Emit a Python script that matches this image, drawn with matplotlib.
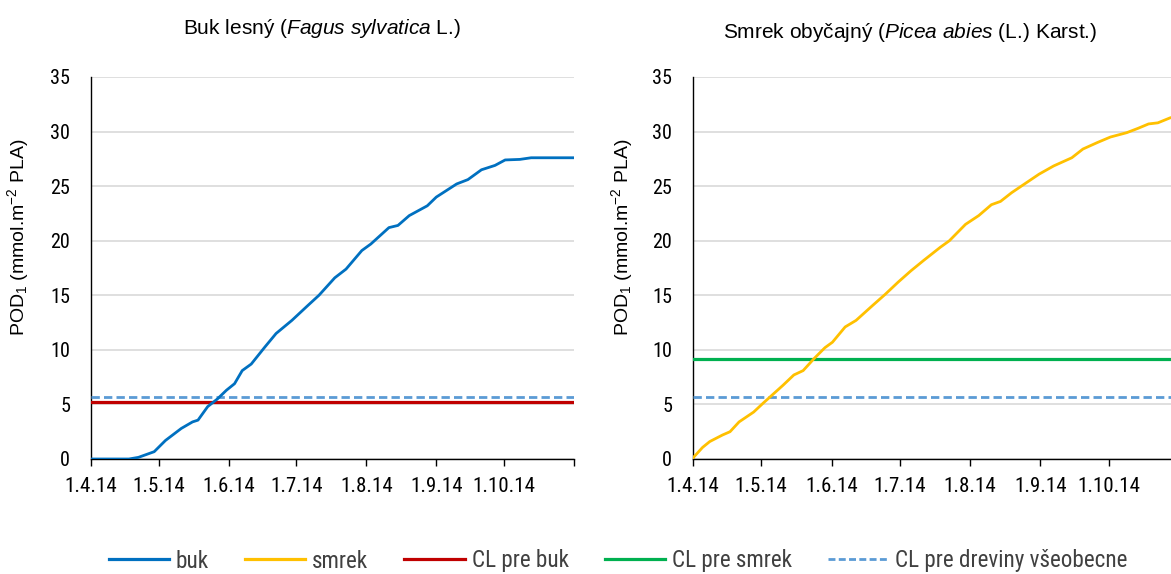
import matplotlib
matplotlib.use("Agg")
import matplotlib.pyplot as plt
from matplotlib import font_manager
from matplotlib.font_manager import FontProperties
from matplotlib.lines import Line2D

# look for a narrow / condensed sans face (Arial Narrow look-alike)
narrow_file = None
prefs = ["LiberationSansNarrow-Regular", "Roboto_Condensed-Regular", "RobotoCondensed-Regular",
         "OpenSans_Condensed-Regular", "OpenSansCondensed", "DejaVuSansCondensed.ttf"]
files = [f.fname for f in font_manager.fontManager.ttflist]
for p in prefs:
    for fn in files:
        if p.lower() in fn.lower():
            narrow_file = fn
            break
    if narrow_file:
        break

def NP(size):
    if narrow_file:
        return FontProperties(fname=narrow_file, size=size)
    return FontProperties(family="Liberation Sans", size=size)

plt.rcParams["font.family"] = ["Liberation Sans", "DejaVu Sans"]
plt.rcParams["mathtext.fontset"] = "custom"
plt.rcParams["mathtext.rm"] = "Liberation Sans"
plt.rcParams["mathtext.it"] = "Liberation Sans:italic"

# x in days since 1.4.14
month_days = [0, 30, 61, 91, 122, 153, 183, 214]
month_labels = ["1.4.14", "1.5.14", "1.6.14", "1.7.14", "1.8.14", "1.9.14", "1.10.14", ""]

buk_days = [0, 10, 16.8, 21, 28, 33, 40, 45, 47.4, 51.7, 56, 60, 63.6, 67, 71, 77, 82, 89, 96,
            101, 108, 113, 120, 124, 132, 136, 141, 149, 153, 162, 167, 173, 179, 183.5, 190,
            195, 214]
buk_vals = [0, 0, 0, 0.15, 0.67, 1.7, 2.8, 3.4, 3.56, 4.8, 5.5, 6.3, 6.9, 8.1, 8.7, 10.25, 11.5,
            12.7, 14.05, 15.0, 16.6, 17.4, 19.1, 19.7, 21.2, 21.4, 22.3, 23.2, 24.0, 25.2, 25.6,
            26.5, 26.9, 27.4, 27.45, 27.6, 27.6]

smrek_days = [0, 4.2, 7.4, 13, 16.3, 20.3, 26.7, 30.8, 34.8, 39.6, 44.4, 48.5, 53.3, 58.1, 61.4,
              67, 71.8, 79, 84.7, 90.3, 96, 101.6, 108.9, 112.9, 120, 125.8, 131.4, 135.4, 140.3,
              146.7, 152.4, 158.8, 166.8, 171.7, 178.1, 183.8, 191, 196, 200.6, 204.7, 210, 214]
smrek_vals = [0.1, 1.06, 1.6, 2.2, 2.5, 3.4, 4.3, 5.1, 5.85, 6.75, 7.7, 8.1, 9.2, 10.2, 10.7,
              12.1, 12.7, 14.05, 15.1, 16.2, 17.25, 18.2, 19.4, 20.0, 21.5, 22.3, 23.3, 23.6,
              24.4, 25.3, 26.1, 26.85, 27.6, 28.4, 29.0, 29.5, 29.9, 30.3, 30.7, 30.8, 31.25, 31.5]

cl_buk = 5.2
cl_smrek = 9.2
cl_vseob = 5.7

C_BUK = "#0070C0"
C_SMREK = "#FFC000"
C_CLBUK = "#C00000"
C_CLSMREK = "#00B050"
C_VSEOB = "#5B9BD5"

W, H = 1171, 574
fig = plt.figure(figsize=(W / 100, H / 100), dpi=100)

def make_ax(x0, x1, label_x):
    y_top, y_bot = 77, 459
    ax = fig.add_axes([x0 / W, 1 - y_bot / H, (x1 - x0) / W, (y_bot - y_top) / H])
    ax.set_xlim(0, 214)
    ax.set_ylim(0, 35)
    ax.set_yticks(range(0, 36, 5))
    ax.set_xticks(month_days)
    ax.set_xticklabels(month_labels, fontproperties=NP(15))
    for lab in ax.get_yticklabels():
        lab.set_fontproperties(NP(14.5))
    ax.tick_params(axis="y", length=0, pad=15)
    ax.tick_params(axis="x", length=5, direction="out", width=1, pad=8)
    ax.grid(axis="y", color="#D9D9D9", linewidth=1.2)
    ax.set_axisbelow(True)
    for s in ("top", "right"):
        ax.spines[s].set_visible(False)
    for s in ("left", "bottom"):
        ax.spines[s].set_color("black")
        ax.spines[s].set_linewidth(1.0)
    ax.set_ylabel(r"POD$_1$ (mmol.m$^{-2}$ PLA)", fontsize=14)
    ax.yaxis.set_label_coords((label_x - x0) / (x1 - x0), (459 - 237) / 382)
    return ax

ax1 = make_ax(91, 574, 31)
ax1.plot(buk_days, buk_vals, color=C_BUK, lw=2.0, zorder=5)
ax1.axhline(cl_vseob, color=C_VSEOB, lw=2.0, ls=(0, (3, 1.5)), zorder=4)
ax1.axhline(cl_buk, color=C_CLBUK, lw=2.3, zorder=4)

ax2 = make_ax(693, 1179, 635)
ax2.plot(smrek_days, smrek_vals, color=C_SMREK, lw=2.0, zorder=5)
ax2.axhline(cl_smrek, color=C_CLSMREK, lw=2.3, zorder=4)
ax2.axhline(cl_vseob, color=C_VSEOB, lw=2.0, ls=(0, (3, 1.5)), zorder=4)

fig.text(322 / W, 1 - 28 / H, r"Buk lesný ($\it{Fagus\ sylvatica}$ L.)", ha="center", va="center",
         fontsize=15)
fig.text(910 / W, 1 - 32 / H, r"Smrek obyčajný ($\it{Picea\ abies}$ (L.) Karst.)", ha="center",
         va="center", fontsize=15)

handles = [
    Line2D([], [], color=C_BUK, lw=2.3),
    Line2D([], [], color=C_SMREK, lw=2.3),
    Line2D([], [], color=C_CLBUK, lw=2.3),
    Line2D([], [], color=C_CLSMREK, lw=2.3),
    Line2D([], [], color=C_VSEOB, lw=2.0, ls=(0, (2.5, 1.2))),
]
labels = ["buk", "smrek", "CL pre buk", "CL pre smrek", "CL pre dreviny všeobecne"]
leg = fig.legend(handles, labels, loc="center", bbox_to_anchor=(618 / W, 1 - 561 / H), ncol=5,
                 frameon=False, handlelength=2.6, handletextpad=0.3, columnspacing=1.55,
                 prop=NP(16.7))
for t in leg.get_texts():
    t.set_color("#404040")

fig.savefig("out.png", dpi=100)
